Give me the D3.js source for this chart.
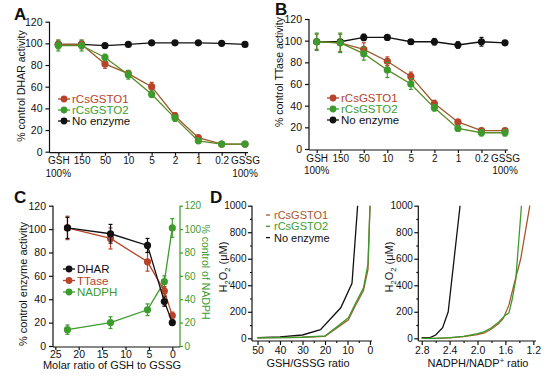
<!DOCTYPE html>
<html>
<head>
<meta charset="utf-8">
<script src="https://cdn.jsdelivr.net/npm/d3@7"></script>
<style>
  body { margin: 0; background: #fff; }
  svg text { font-family: "Liberation Sans", Arial, sans-serif; }
</style>
</head>
<body>
<div id="chart"></div>
<script>
// ---- data ----
const ratioCats = ["GSH", "150", "50", "10", "5", "2", "1", "0.2", "GSSG"];

const dharO1 = [99, 99, 81, 72, 60, 33, 13, 7, 7];
const dharO2 = [98, 98, 87, 71, 53, 31, 10, 7, 7];
const dharNone = [99, 99, 98, 99, 100.5, 100.5, 100.5, 100, 99];
const dharO1Err = [4, 4, 4, 3, 4, 3, 2, 1, 1];
const dharO2Err = [5, 5, 3, 4, 3, 3, 2, 1, 1];
const dharNoneErr = [1, 1, 1, 1, 1, 1, 1, 1, 1];

const ttO1 = [99, 98, 92, 81, 67, 42, 25, 17, 17];
const ttO2 = [99, 98, 88, 73, 60, 38, 19, 15, 15];
const ttNone = [99, 99, 103, 103, 99, 99, 96, 99, 98];
const ttO1Err = [7, 8, 6, 4, 4, 3, 2, 2, 2];
const ttO2Err = [8, 9, 6, 7, 5, 3, 2, 3, 3];
const ttNoneErr = [2, 2, 3, 1, 2, 3, 3, 4, 2];

const molarRatio = [22.4, 13.2, 5.3, 1.7, 0];
const cDhar = [101, 96, 86, 38, 20];
const cTtase = [101, 92, 72, 47, 26];
const cNadph = [14, 20, 31, 55, 101];
const cDharErr = [9, 8, 6, 4, 2];
const cTtaseErr = [10, 9, 8, 4, 3];
const cNadphErr = [4, 5, 5, 5, 8];

const gshRatio = [50, 40, 30, 22, 13, 8, 5.5];
const gshNone = [5, 10, 25, 65, 230, 415, 1000];
const gshRatioO = [50, 40, 30, 20, 13.3, 9.6, 6.7, 2.9, 0.9, 0];
const gshO1 = [3, 5, 8, 15, 95, 140, 240, 360, 520, 1000];
const gshO2 = [3, 5, 8, 18, 105, 155, 255, 380, 560, 1000];

const nadRatioNone = [2.8, 2.68, 2.6, 2.5, 2.42, 2.25];
const nadNone = [5, 5, 25, 80, 200, 1000];
const nadRatioO1 = [2.8, 2.6, 2.4, 2.2, 2.0, 1.9, 1.8, 1.7, 1.63, 1.55, 1.47, 1.38, 1.25];
const nadO1 = [0, 0, 3, 12, 28, 40, 70, 110, 150, 250, 420, 600, 1000];
const nadRatioO2 = [2.8, 2.6, 2.4, 2.2, 2.0, 1.9, 1.8, 1.7, 1.6, 1.55, 1.5, 1.45, 1.37];
const nadO2 = [0, 0, 5, 15, 35, 50, 80, 120, 175, 190, 300, 450, 1000];

const red = "#b8432b";
const green = "#3d9b2e";
const brown = "#a8582e";
const tickFont = 10.5;

const svg = d3.select("#chart").append("svg")
  .attr("width", 550).attr("height", 378);

function label(x, y, txt, opts) {
  opts = opts || {};
  const t = svg.append("text")
    .attr("x", x).attr("y", y)
    .attr("font-size", opts.size || 11)
    .attr("text-anchor", opts.anchor || "middle")
    .attr("fill", opts.fill || "#111")
    .attr("font-weight", opts.weight || "normal")
    .text(txt);
  if (opts.rotate) t.attr("transform", "rotate(" + opts.rotate + "," + x + "," + y + ")");
  return t;
}

function styleAxis(g, color, size) {
  g.selectAll("path, line").attr("stroke", color || "#111").attr("stroke-width", 1.2);
  g.selectAll("text").attr("font-size", size || tickFont).attr("fill", color || "#111");
}

function series(x, y, xs, ys, errs, color, lineColor) {
  const pts = xs.map((d, i) => [x(d), y(ys[i])]);
  svg.append("path")
    .attr("d", d3.line()(pts))
    .attr("fill", "none").attr("stroke", lineColor || color).attr("stroke-width", 1.3);
  if (errs) {
    pts.forEach((p, i) => {
      const y1 = y(ys[i] + errs[i]), y2 = y(ys[i] - errs[i]);
      svg.append("line").attr("x1", p[0]).attr("x2", p[0]).attr("y1", y1).attr("y2", y2)
        .attr("stroke", color).attr("stroke-width", 1.2);
      [y1, y2].forEach(yy => svg.append("line")
        .attr("x1", p[0] - 2).attr("x2", p[0] + 2).attr("y1", yy).attr("y2", yy)
        .attr("stroke", color).attr("stroke-width", 1.2));
    });
    svg.append("g").selectAll("circle").data(pts).enter().append("circle")
      .attr("cx", d => d[0]).attr("cy", d => d[1]).attr("r", 3.6).attr("fill", color);
  }
}

function legend(x, y, rows, dy) {
  rows.forEach((r, i) => {
    const yy = y + i * dy;
    svg.append("line").attr("x1", x - 6).attr("x2", x + 6).attr("y1", yy).attr("y2", yy)
      .attr("stroke", r.color).attr("stroke-width", 1.3);
    svg.append("circle").attr("cx", x).attr("cy", yy).attr("r", 3.4).attr("fill", r.color);
    label(x + 8, yy + 4, r.name, { anchor: "start", size: 11.5, fill: r.color });
  });
}

// ---- panel A / B (shared layout) ----
function ratioPanel(opt) {
  const x = d3.scalePoint().domain(ratioCats).range([opt.x0, opt.x1]);
  const y = d3.scaleLinear().domain([0, 120]).range([opt.yb, opt.yt]);
  const ya = svg.append("g").attr("transform", "translate(" + opt.ax + ",0)")
    .call(d3.axisLeft(y).tickValues([0, 20, 40, 60, 80, 100, 120]).tickSize(4).tickPadding(3));
  ya.select(".domain").attr("d", "M0," + (opt.yb + 1) + "V" + opt.yt);
  styleAxis(ya);
  const xa = svg.append("g").attr("transform", "translate(0," + (opt.yb + 1) + ")")
    .call(d3.axisBottom(x).tickSize(3).tickPadding(1.5));
  xa.select(".domain").attr("d", "M" + opt.ax + ",0H" + (opt.x1 + 3));
  styleAxis(xa, "#111", 10);
  label(opt.x0, opt.yb + 25, "100%", { size: 10 });
  label(opt.x1, opt.yb + 25, "100%", { size: 10 });

  series(x, y, ratioCats, opt.none, opt.noneErr, "#111");
  series(x, y, ratioCats, opt.o1, opt.o1Err, red, "#9a5a2a");
  series(x, y, ratioCats, opt.o2, opt.o2Err, green, "#5b8a26");

  label(opt.ylx, opt.yly, opt.ylab, { size: 10.5, rotate: -90 });
  label(opt.lx, opt.ly, opt.letter, { size: 17, weight: "bold", anchor: "start" });
  legend(opt.legx, opt.legy, [
    { name: "rCsGSTO1", color: red },
    { name: "rCsGSTO2", color: green },
    { name: "No enzyme", color: "#111" }
  ], 11);
}

ratioPanel({
  x0: 58.3, x1: 245, yb: 151.7, yt: 21.7, ax: 49.5,
  none: dharNone, noneErr: dharNoneErr, o1: dharO1, o1Err: dharO1Err, o2: dharO2, o2Err: dharO2Err,
  ylab: "% control DHAR activity", ylx: 25, yly: 86,
  letter: "A", lx: 14, ly: 20, legx: 64, legy: 99
});

ratioPanel({
  x0: 316.7, x1: 505, yb: 149, yt: 19, ax: 309,
  none: ttNone, noneErr: ttNoneErr, o1: ttO1, o1Err: ttO1Err, o2: ttO2, o2Err: ttO2Err,
  ylab: "% control TTase activity", ylx: 283, yly: 72,
  letter: "B", lx: 275, ly: 15, legx: 333, legy: 98
});

// ---- panel C ----
{
  const x = d3.scaleLinear().domain([0, 25]).range([172.3, 55.3]);
  const y = d3.scaleLinear().domain([0, 120]).range([346, 205.7]);
  const yl = svg.append("g").attr("transform", "translate(53,0)")
    .call(d3.axisLeft(y).tickValues(d3.range(0, 121, 20)).tickSize(4).tickPadding(3));
  yl.select(".domain").attr("d", "M0,347V205.7");
  styleAxis(yl);
  const yr = svg.append("g").attr("transform", "translate(180,0)")
    .call(d3.axisRight(y).tickValues(d3.range(0, 121, 20)).tickSize(3).tickPadding(1.5));
  yr.select(".domain").attr("d", "M0,347V205.7");
  styleAxis(yr, green, 10);
  const xa = svg.append("g").attr("transform", "translate(0,347)")
    .call(d3.axisBottom(x).tickValues([25, 20, 15, 10, 5, 0]).tickSize(3).tickPadding(1));
  xa.select(".domain").attr("d", "M53,0H180");
  styleAxis(xa);

  series(x, y, molarRatio, cNadph, cNadphErr, green);
  series(x, y, molarRatio, cTtase, cTtaseErr, red);
  series(x, y, molarRatio, cDhar, cDharErr, "#111");

  label(27, 284, "% control enzyme activity", { size: 11, rotate: -90 });
  label(201.5, 272, "% control of NADPH", { size: 10.5, rotate: 90, fill: green });
  label(112, 369, "Molar ratio of GSH to GSSG", { size: 11 });
  label(14, 203, "C", { size: 17, weight: "bold", anchor: "start" });
  legend(69, 269, [
    { name: "DHAR", color: "#111" },
    { name: "TTase", color: red },
    { name: "NADPH", color: green }
  ], 11.5);
}

// ---- panel D ----
function h2o2Axis(ax, x, ticks, minor, xEnd, fmt) {
  const y = d3.scaleLinear().domain([0, 1000]).range([338.3, 205.7]);
  const ya = svg.append("g").attr("transform", "translate(" + ax + ",0)")
    .call(d3.axisLeft(y).tickValues(d3.range(0, 1001, 200)).tickSize(4).tickPadding(1.5)
      .tickFormat(d3.format("d")));
  ya.select(".domain").attr("d", "M0,341V205.7");
  styleAxis(ya, "#111", 10);
  const ym = svg.append("g").attr("transform", "translate(" + ax + ",0)")
    .call(d3.axisLeft(y).tickValues(d3.range(100, 1000, 200)).tickSize(2).tickFormat(""));
  ym.select(".domain").remove();
  styleAxis(ym);
  const xa = svg.append("g").attr("transform", "translate(0,341)")
    .call(d3.axisBottom(x).tickValues(ticks).tickSize(4).tickPadding(1.5).tickFormat(d3.format(fmt)));
  xa.select(".domain").attr("d", "M" + ax + ",0H" + xEnd);
  styleAxis(xa);
  const xm = svg.append("g").attr("transform", "translate(0,341)")
    .call(d3.axisBottom(x).tickValues(minor).tickSize(2).tickFormat(""));
  xm.select(".domain").remove();
  styleAxis(xm);
  return y;
}

function h2o2Label(x, y) {
  const t = svg.append("text").attr("transform", "translate(" + x + "," + y + ") rotate(-90)")
    .attr("text-anchor", "middle").attr("font-size", 11).attr("fill", "#111");
  t.append("tspan").text("H");
  t.append("tspan").text("2").attr("font-size", 7.5).attr("dy", 3);
  t.append("tspan").text("O").attr("dy", -3);
  t.append("tspan").text("2").attr("font-size", 7.5).attr("dy", 3);
  t.append("tspan").text(" (μM)").attr("dy", -3);
}

{
  const x = d3.scaleLinear().domain([0, 50]).range([370, 257.5]);
  const y = h2o2Axis(252, x, [50, 40, 30, 20, 10, 0], [45, 35, 25, 15, 5], 372, "d");
  series(x, y, gshRatio, gshNone, null, "#111");
  series(x, y, gshRatioO, gshO1, null, brown);
  series(x, y, gshRatioO, gshO2, null, green);
  h2o2Label(227, 267);
  label(308, 367, "GSH/GSSG ratio", { size: 11 });
  label(210, 203, "D", { size: 17, weight: "bold", anchor: "start" });
  [{ name: "rCsGSTO1", color: brown }, { name: "rCsGSTO2", color: green }, { name: "No enzyme", color: "#111" }]
    .forEach((r, i) => {
      const yy = 215 + i * 11.3;
      svg.append("line").attr("x1", 266).attr("x2", 270).attr("y1", yy).attr("y2", yy)
        .attr("stroke", r.color).attr("stroke-width", 1.3);
      label(274, yy + 4, r.name, { anchor: "start", size: 11, fill: r.color });
    });
}

{
  const x = d3.scaleLinear().domain([1.2, 2.8]).range([533.3, 421.7]);
  const y = h2o2Axis(418.3, x, [2.8, 2.4, 2.0, 1.6, 1.2], [2.6, 2.2, 1.8, 1.4], 536, ".1f");
  series(x, y, nadRatioNone, nadNone, null, "#111");
  series(x, y, nadRatioO1, nadO1, null, brown);
  series(x, y, nadRatioO2, nadO2, null, green);
  h2o2Label(393, 267);
  const t = svg.append("text").attr("x", 478).attr("y", 367).attr("text-anchor", "middle")
    .attr("font-size", 11).attr("fill", "#111");
  t.append("tspan").text("NADPH/NADP");
  t.append("tspan").text("+").attr("font-size", 7.5).attr("dy", -4);
  t.append("tspan").text(" ratio").attr("dy", 4);
}
</script>
</body>
</html>
